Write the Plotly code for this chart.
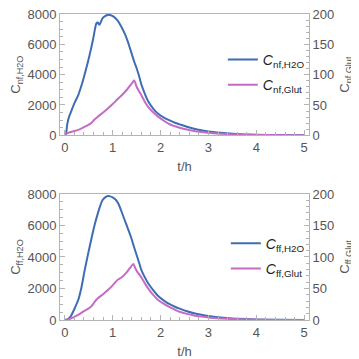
import plotly.graph_objects as go

# Top panel (nf)
t_nf_h2o = [0.0, 0.02, 0.05, 0.09, 0.13, 0.17, 0.22, 0.28, 0.33, 0.38, 0.43, 0.48, 0.54, 0.59, 0.63, 0.66, 0.69, 0.72, 0.75, 0.79, 0.85, 0.90, 0.96, 1.02, 1.10, 1.17, 1.25, 1.32, 1.39, 1.45, 1.50, 1.55, 1.60, 1.67, 1.74, 1.85, 1.95, 2.07, 2.19, 2.30, 2.40, 2.55, 2.70, 2.85, 3.00, 3.25, 3.50, 3.75, 4.00, 4.50, 5.00]
c_nf_h2o = [0, 0, 700, 1230, 1550, 1880, 2250, 2640, 3100, 3610, 4200, 4800, 5600, 6320, 7000, 7380, 7440, 7290, 7450, 7730, 7880, 7940, 7920, 7830, 7580, 7230, 6720, 6150, 5450, 4850, 4420, 3930, 3350, 2750, 2250, 1750, 1420, 1170, 980, 830, 720, 560, 430, 330, 250, 160, 95, 60, 35, 12, 4]

t_nf_glut = [0.0, 0.03, 0.07, 0.15, 0.28, 0.40, 0.50, 0.55, 0.62, 0.69, 0.80, 0.90, 1.00, 1.10, 1.19, 1.30, 1.40, 1.45, 1.50, 1.55, 1.60, 1.67, 1.74, 1.85, 1.95, 2.07, 2.19, 2.30, 2.40, 2.55, 2.70, 2.85, 3.00, 3.25, 3.50, 3.75, 4.00, 4.50, 5.00]
c_nf_glut = [0, 2.5, 4.0, 6.0, 9.0, 13.5, 17.5, 20.0, 26.0, 30.75, 37.5, 44.25, 51.5, 59.5, 66.0, 75.5, 85.5, 90.25, 80.0, 72.5, 66.0, 55.5, 47.0, 37.5, 30.75, 24.0, 18.25, 15.0, 12.5, 9.5, 7.25, 5.5, 4.0, 2.5, 1.5, 0.9, 0.5, 0.18, 0.06]

# Bottom panel (ff)
t_ff_h2o = [0.0, 0.05, 0.10, 0.14, 0.20, 0.28, 0.35, 0.41, 0.48, 0.55, 0.62, 0.69, 0.74, 0.79, 0.85, 0.90, 0.95, 1.00, 1.06, 1.12, 1.18, 1.25, 1.32, 1.39, 1.45, 1.50, 1.55, 1.60, 1.67, 1.74, 1.85, 1.95, 2.07, 2.19, 2.30, 2.40, 2.55, 2.70, 2.85, 3.00, 3.25, 3.50, 3.75, 4.00, 4.50, 5.00]
c_ff_h2o = [0, 30, 150, 320, 700, 1270, 2100, 3070, 4100, 5080, 6000, 6770, 7250, 7620, 7800, 7870, 7850, 7790, 7650, 7380, 6920, 6350, 5780, 5190, 4600, 4130, 3650, 3170, 2720, 2330, 1880, 1520, 1230, 1000, 840, 720, 560, 430, 330, 250, 160, 95, 60, 35, 12, 4]

t_ff_glut = [0.0, 0.05, 0.10, 0.20, 0.28, 0.40, 0.50, 0.55, 0.62, 0.69, 0.80, 0.90, 1.00, 1.10, 1.19, 1.30, 1.38, 1.43, 1.48, 1.54, 1.60, 1.67, 1.74, 1.85, 1.95, 2.07, 2.19, 2.30, 2.40, 2.55, 2.70, 2.85, 3.00, 3.25, 3.50, 3.75, 4.00, 4.50, 5.00]
c_ff_glut = [0, 0.3, 1.5, 5.0, 8.0, 14.0, 18.5, 21.25, 28.5, 34.5, 41.0, 47.5, 55.0, 63.5, 67.75, 76.5, 84.5, 89.0, 81.0, 73.5, 67.75, 58.5, 50.25, 39.5, 31.75, 25.5, 20.5, 16.5, 13.0, 9.75, 7.25, 5.5, 4.0, 2.5, 1.5, 0.9, 0.5, 0.18, 0.06]

x_ticks = [0, 1, 2, 3, 4, 5]
blue = "#3f6db3"
magenta = "#c46cc4"
frame = "#b4b4b4"
txt = "#555555"
font_family = "Liberation Sans, Arial, sans-serif"

fig = go.Figure()

def line(color):
    return dict(color=color, width=2, shape="spline", smoothing=0.6)

fig.add_trace(go.Scatter(x=t_nf_h2o, y=c_nf_h2o, mode="lines", line=line(blue),
                         name="<i>C</i><sub>nf,H2O</sub>", xaxis="x", yaxis="y",
                         legend="legend", legendgroup="a"))
fig.add_trace(go.Scatter(x=t_nf_glut, y=c_nf_glut, mode="lines", line=line(magenta),
                         name="<i>C</i><sub>nf,Glut</sub>", xaxis="x", yaxis="y2",
                         legend="legend", legendgroup="b"))
fig.add_trace(go.Scatter(x=t_ff_h2o, y=c_ff_h2o, mode="lines", line=line(blue),
                         name="<i>C</i><sub>ff,H2O</sub>", xaxis="x2", yaxis="y3",
                         legend="legend2", legendgroup="c"))
fig.add_trace(go.Scatter(x=t_ff_glut, y=c_ff_glut, mode="lines", line=line(magenta),
                         name="<i>C</i><sub>ff,Glut</sub>", xaxis="x2", yaxis="y4",
                         legend="legend2", legendgroup="d"))

def xax(anchor):
    return dict(range=[-0.1, 5.1], tickvals=x_ticks, ticks="inside", ticklen=5, tickcolor=frame,
                showline=True, linecolor=frame, linewidth=1, mirror=True, showgrid=False, zeroline=False,
                minor=dict(ticks="inside", ticklen=3, dtick=0.2, tickcolor=frame, showgrid=False),
                tickfont=dict(size=13, color=txt, family=font_family), automargin=False,
                ticklabeloverflow="allow",
                title=dict(text="t/h", font=dict(size=13, color=txt, family=font_family), standoff=8),
                anchor=anchor)

def yleft(domain, anchor, title):
    return dict(domain=domain, range=[0, 8000], tickvals=[0, 2000, 4000, 6000, 8000], ticks="inside",
                ticklen=5, tickcolor=frame, showline=True, linecolor=frame, linewidth=1,
                showgrid=False, zeroline=False, anchor=anchor, automargin=False,
                ticklabeloverflow="allow",
                minor=dict(ticks="inside", ticklen=3, dtick=500, tickcolor=frame, showgrid=False),
                tickfont=dict(size=13, color=txt, family=font_family),
                title=dict(text=title, font=dict(size=13, color=txt, family=font_family), standoff=4))

def yright(overlay, anchor, title):
    return dict(overlaying=overlay, side="right", range=[0, 200], tickvals=[0, 50, 100, 150, 200],
                ticks="inside", ticklen=5, tickcolor=frame, showline=True, linecolor=frame, linewidth=1,
                showgrid=False, zeroline=False, anchor=anchor, automargin=False,
                ticklabeloverflow="allow",
                minor=dict(ticks="inside", ticklen=3, dtick=10, tickcolor=frame, showgrid=False),
                tickfont=dict(size=13, color=txt, family=font_family),
                title=dict(text=title, font=dict(size=13, color=txt, family=font_family), standoff=6))

top_dom = [0.6036, 1.0]
bot_dom = [0.0, 0.4118]

# the page places the figure 8px in from the top-left corner
fig.update_layout(
    width=351, height=351,
    margin=dict(l=52, r=50, t=6, b=39),
    paper_bgcolor="white", plot_bgcolor="white",
    font=dict(family=font_family, color=txt),
    xaxis=xax("y"),
    xaxis2=xax("y3"),
    yaxis=yleft(top_dom, "x", "C<sub>nf,H2O</sub>"),
    yaxis2=yright("y", "x", "C<sub>nf,Glut</sub>"),
    yaxis3=yleft(bot_dom, "x2", "C<sub>ff,H2O</sub>"),
    yaxis4=yright("y3", "x2", "C<sub>ff,Glut</sub>"),
    legend=dict(x=0.654, y=0.902, xanchor="left", yanchor="top", bgcolor="rgba(0,0,0,0)",
                font=dict(size=14, color="#222222", family=font_family), tracegroupgap=4, itemwidth=30),
    legend2=dict(x=0.666, y=0.302, xanchor="left", yanchor="top", bgcolor="rgba(0,0,0,0)",
                 font=dict(size=14, color="#222222", family=font_family), tracegroupgap=4, itemwidth=30),
    showlegend=True,
)

fig.write_html("out.html")
